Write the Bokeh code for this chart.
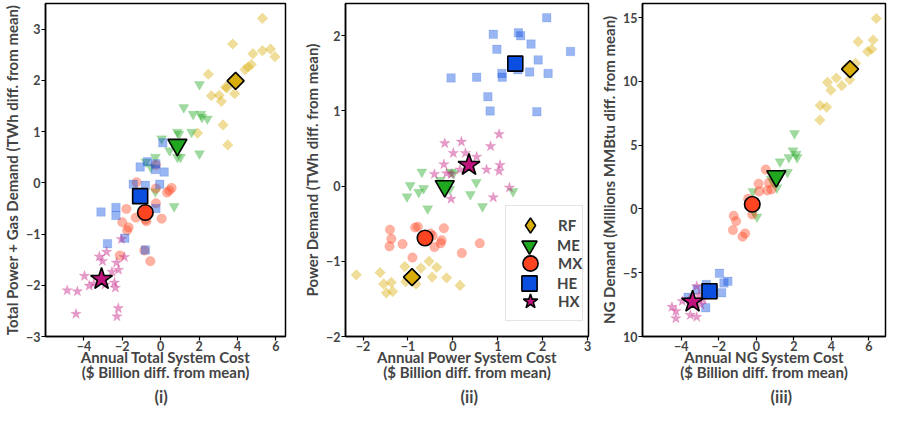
from bokeh.plotting import figure
from bokeh.layouts import row
from bokeh.models import Range1d, FixedTicker, Legend, LegendItem, Title
from bokeh.embed import file_html
from bokeh.resources import INLINE

series = ["RF", "ME", "MX", "HE", "HX"]

# ---------------- Panel (i): total system cost vs total power + gas demand
p1_RF_x = [5.30, 3.75, 5.30, 5.72, 5.95, 4.80, 4.72, 4.39, 2.48, 3.38, 3.05, 3.85, 2.64, 3.16, 1.92, 3.25, 3.49, 3.45, 4.55]
p1_RF_y = [3.21, 2.71, 2.58, 2.61, 2.46, 2.52, 2.31, 2.21, 2.12, 1.87, 1.71, 1.74, 1.70, 1.59, 0.97, 1.13, 0.74, 1.85, 2.26]
p1_ME_x = [2.02, 1.20, 1.69, 2.10, 2.15, 2.43, 1.61, 0.87, 0.05, 0.46, 0.87, 1.03, -0.28, -0.77, -0.52, 2.02, 0.70, -0.28, 0.95]
p1_ME_y = [1.92, 1.47, 1.34, 1.34, 1.28, 1.25, 0.99, 0.99, 0.86, 0.63, 0.50, 0.50, 0.50, 0.41, 0.31, 0.57, -0.46, -0.17, 0.95]
p1_MX_x = [-1.26, -0.25, -0.25, 0.57, 0.33, -0.25, -1.79, -2.00, -1.67, -1.75, -1.30, -0.74, 0.05, -0.85, -0.54, -2.13, 0.45, -0.80]
p1_MX_y = [0.01, 0.35, -0.11, -0.10, -0.19, -0.40, -0.51, -0.77, -0.87, -0.93, -0.68, -0.75, -0.70, -1.32, -1.53, -1.42, -0.15, -0.72]
p1_HE_x = [0.11, -1.07, -0.69, -0.25, 0.18, -0.05, -1.43, -0.80, -3.11, -2.33, -2.33, -0.25, -2.77, -1.87, -0.80, -0.28]
p1_HE_y = [0.78, 0.31, 0.41, 0.37, 0.21, -0.03, -0.03, -0.05, -0.57, -0.48, -0.64, -0.50, -1.19, -1.08, -1.31, 0.26]
p1_HX_x = [-2.05, -1.89, -3.20, -2.82, -3.03, -2.30, -2.20, -2.54, -3.97, -3.72, -3.48, -2.90, -2.41, -2.36, -4.87, -4.34, -4.41, -2.21, -2.28]
p1_HX_y = [-1.10, -1.45, -1.44, -1.35, -1.53, -1.56, -1.70, -1.74, -1.82, -2.01, -1.97, -1.99, -1.95, -2.05, -2.10, -2.12, -2.56, -2.45, -2.61]
p1_mean_x = [3.90, 0.87, -0.80, -1.07, -3.08]
p1_mean_y = [1.99, 0.74, -0.58, -0.26, -1.88]

# ---------------- Panel (ii): power system cost vs power demand
p2_RF_x = [-2.15, -1.62, -1.54, -1.37, -1.48, -1.34, -1.07, -0.53, -0.71, -0.36, -0.46, -0.14, -0.82, 0.16, -1.05]
p2_RF_y = [-1.18, -1.15, -1.30, -1.28, -1.42, -1.40, -1.07, -1.00, -1.09, -1.08, -1.21, -1.22, -1.30, -1.32, -1.27]
p2_ME_x = [-0.69, -0.95, -0.65, -0.76, -1.02, -0.56, -0.04, 0.01, 0.52, 0.39, 0.66, 1.34, -0.07, -0.28]
p2_ME_y = [0.19, 0.01, -0.03, -0.08, -0.14, -0.30, 0.19, 0.17, 0.05, -0.11, -0.27, -0.07, -0.04, 0.08]
p2_MX_x = [-1.40, -1.37, -1.41, -1.12, -0.84, -0.78, -0.50, -0.41, -0.25, -0.20, -0.27, -0.90, 0.20, 0.60, -0.45]
p2_MX_y = [-0.58, -0.70, -0.80, -0.77, -0.55, -0.54, -0.63, -0.81, -0.72, -0.56, -0.76, -0.95, -0.89, -0.76, -0.66]
p2_HE_x = [2.09, 0.90, 1.46, 1.51, 0.98, 1.74, 1.90, 2.62, 1.09, 1.10, 1.71, 2.12, -0.04, 0.53, 0.78, 0.83, 1.87, 1.45]
p2_HE_y = [2.24, 2.02, 2.04, 2.00, 1.82, 1.89, 1.68, 1.79, 1.50, 1.45, 1.52, 1.50, 1.44, 1.45, 1.19, 1.00, 0.99, 1.55]
p2_HX_x = [1.03, -0.18, 0.19, 0.84, 0.01, 0.28, 0.53, -0.20, 1.05, 1.03, 0.75, 0.16, -0.14, -0.41, -0.04, 1.26, 0.90, -0.03]
p2_HX_y = [0.69, 0.57, 0.59, 0.53, 0.44, 0.44, 0.39, 0.29, 0.28, 0.20, 0.22, 0.22, 0.17, 0.16, -0.17, -0.02, -0.15, 0.16]
p2_mean_x = [-0.91, -0.18, -0.62, 1.39, 0.36]
p2_mean_y = [-1.21, 0.00, -0.69, 1.63, 0.28]

# ---------------- Panel (iii): NG system cost vs NG demand
p3_RF_x = [6.39, 5.42, 6.22, 6.14, 5.93, 5.28, 5.03, 4.97, 4.26, 3.79, 3.97, 4.55, 3.40, 3.74, 3.38, 4.80]
p3_RF_y = [14.92, 13.11, 13.24, 12.51, 12.33, 11.42, 10.91, 10.13, 10.26, 9.92, 9.30, 9.66, 8.11, 7.98, 6.97, 11.10]
p3_ME_x = [2.03, 1.95, 2.12, 2.17, 1.73, 1.26, 1.66, 0.79, 1.09, -0.19, 0.03, -0.15, 0.90]
p3_ME_y = [5.91, 4.56, 4.30, 4.04, 4.04, 3.70, 2.88, 2.36, 1.66, 1.37, -0.62, -0.23, 2.10]
p3_MX_x = [0.50, 0.12, 0.67, 0.58, 0.80, 0.15, -1.21, -1.08, -1.25, -0.74, -0.60, -0.22, -0.44]
p3_MX_y = [3.08, 1.97, 2.05, 1.45, 1.53, 1.37, -0.54, -0.96, -1.66, -2.18, -1.92, -0.44, 0.80]
p3_HE_x = [-1.97, -1.52, -1.73, -1.85, -2.67, -3.16, -3.64, -3.44, -2.70, -2.31]
p3_HE_y = [-5.05, -5.67, -5.80, -6.58, -5.93, -6.32, -6.92, -7.28, -7.75, -6.40]
p3_HX_x = [-3.18, -3.06, -4.50, -4.29, -4.29, -3.52, -3.18, -2.84, -3.57, -3.95, -2.96]
p3_HX_y = [-6.06, -6.76, -7.69, -8.01, -8.58, -8.32, -8.47, -7.10, -7.10, -7.23, -7.49]
p3_mean_x = [4.99, 1.06, -0.22, -2.50, -3.40]
p3_mean_y = [10.96, 2.56, 0.36, -6.45, -7.28]

# ---------------- axis / tick labels
x_labels = ["Annual Total System Cost\n($ Billion diff. from mean)",
            "Annual Power System Cost\n($ Billion diff. from mean)",
            "Annual NG System Cost\n($ Billion diff. from mean)"]
y_labels = ["Total Power + Gas Demand (TWh diff. from mean)",
            "Power Demand (TWh diff. from mean)",
            "NG Demand (Millions MMBtu diff. from mean)"]
panel_tags = ["(i)", "(ii)", "(iii)"]
x_ticks = [[-4, -2, 0, 2, 4, 6], [-2, -1, 0, 1, 2, 3], [-4, -2, 0, 2, 4, 6]]
y_ticks = [[-3, -2, -1, 0, 1, 2, 3], [-2, -1, 0, 1, 2], [-10, -5, 0, 5, 10, 15]]

colors = {"RF": "#D9AE0B", "ME": "#1FA81F", "MX": "#FF4422", "HE": "#0B4FE0", "HX": "#C0137E"}
markers = {"RF": "square", "ME": "inverted_triangle", "MX": "circle", "HE": "square", "HX": "star"}
angles = {"RF": 0.785398, "ME": 0.0, "MX": 0.0, "HE": 0.0, "HX": 0.0}
small_size = {"RF": 7.5, "ME": 10, "MX": 9.5, "HE": 8.5, "HX": 11}
big_size = {"RF": 12, "ME": 19, "MX": 15.5, "HE": 15, "HX": 23}

FONT = "Lato"

panels = [
    (p1_RF_x, p1_RF_y, p1_ME_x, p1_ME_y, p1_MX_x, p1_MX_y, p1_HE_x, p1_HE_y, p1_HX_x, p1_HX_y, p1_mean_x, p1_mean_y),
    (p2_RF_x, p2_RF_y, p2_ME_x, p2_ME_y, p2_MX_x, p2_MX_y, p2_HE_x, p2_HE_y, p2_HX_x, p2_HX_y, p2_mean_x, p2_mean_y),
    (p3_RF_x, p3_RF_y, p3_ME_x, p3_ME_y, p3_MX_x, p3_MX_y, p3_HE_x, p3_HE_y, p3_HX_x, p3_HX_y, p3_mean_x, p3_mean_y),
]
x_ranges = [(-6.0, 6.5), (-2.39, 3.02), (-6.07, 6.88)]
y_ranges = [(-3.0, 3.5), (-2.0, 2.43), (-10.0, 16.1)]

widths = [300, 297, 290]
left_borders = [37, 40, 40]
right_borders = [15, 9, 2]
tag_left = [109, 115, 128]

figs = []
for i in range(3):
    d = panels[i]
    p = figure(width=widths[i], height=406, output_backend="svg", toolbar_location=None,
               x_range=Range1d(*x_ranges[i]), y_range=Range1d(*y_ranges[i]),
               min_border_left=left_borders[i], min_border_right=right_borders[i],
               min_border_top=3, min_border_bottom=60)
    p.grid.visible = False
    p.outline_line_color = "black"
    p.outline_line_width = 1.5
    p.background_fill_color = "white"
    p.border_fill_color = "white"
    for ax, ticks, lab in ((p.xaxis[0], x_ticks[i], x_labels[i]), (p.yaxis[0], y_ticks[i], y_labels[i])):
        ax.ticker = FixedTicker(ticks=ticks)
        ax.axis_label = lab
        ax.axis_label_text_font = FONT
        ax.axis_label_text_font_style = "bold"
        ax.axis_label_text_font_size = "15px"
        ax.major_label_text_font = FONT
        ax.major_label_text_font_style = "bold"
        ax.major_label_text_font_size = "12.5px"
        ax.major_label_standoff = 1
        ax.axis_line_color = "black"
        ax.axis_line_width = 1.5
        ax.major_tick_line_color = "black"
        ax.major_tick_line_width = 1.2
        ax.major_tick_out = 4
        ax.major_tick_in = 0
        ax.minor_tick_line_color = None
    p.xaxis[0].major_label_standoff = 0
    p.xaxis[0].axis_label_standoff = -6
    p.xaxis[0].axis_label_text_line_height = 0.88
    p.yaxis[0].axis_label_standoff = 2
    if i == 2:
        p.yaxis[0].major_label_overrides = {-10: "10"}

    for k, s in enumerate(series):
        xs = d[2 * k]
        ys = d[2 * k + 1]
        p.scatter(xs, ys, marker=markers[s], size=small_size[s], angle=angles[s],
                  fill_color=colors[s], fill_alpha=0.42, line_color=colors[s], line_alpha=0.15,
                  line_width=1)
    mean_x, mean_y = d[10], d[11]
    rs = []
    for k, s in enumerate(series):
        under = None
        if i == 1 and s == "RF":
            # plain diamond drawn underneath the rotated square: used as the legend symbol
            under = p.scatter([mean_x[k]], [mean_y[k]], marker="diamond", size=16,
                              fill_color=colors[s], line_color="black", line_width=1.6)
        r = p.scatter([mean_x[k]], [mean_y[k]], marker=markers[s], size=big_size[s], angle=angles[s],
                      fill_color=colors[s], line_color="black", line_width=1.6)
        rs.append(under if under is not None else r)

    p.add_layout(Title(text=panel_tags[i], align="left", offset=tag_left[i], standoff=0,
                       text_font=FONT, text_font_style="bold", text_font_size="16.5px"), "below")

    if i == 1:
        common = dict(glyph_width=48, glyph_height=38, spacing=0, padding=0, margin=0,
                      label_standoff=4, label_text_font=FONT, label_text_font_style="bold",
                      label_text_font_size="15px")
        leg_a = Legend(items=[LegendItem(label=series[k], renderers=[rs[k]]) for k in (0, 2, 4)],
                       location=(160, 15), border_line_color="#cccccc", border_line_width=1,
                       background_fill_color="white", background_fill_alpha=1.0, **common)
        leg_b = Legend(items=[LegendItem(label=series[k], renderers=[rs[k]]) for k in (1, 3)],
                       location=(160, 34), border_line_color=None,
                       background_fill_alpha=0.0, **common)
        p.add_layout(leg_a, "center")
        p.add_layout(leg_b, "center")
    figs.append(p)

layout = row(*figs, spacing=0)
open("out.html", "w").write(file_html(layout, INLINE))
